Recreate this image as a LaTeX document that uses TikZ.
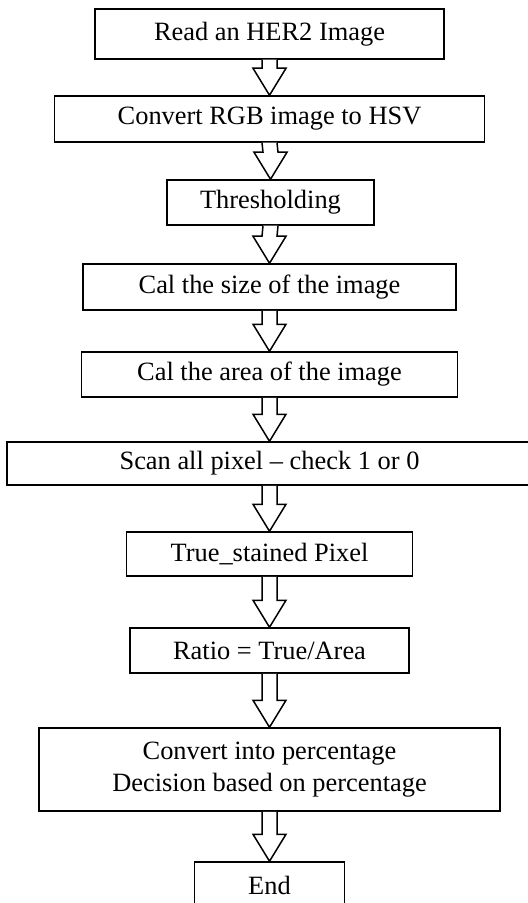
\documentclass[tikz,border=0pt]{standalone}
\usepackage{fontspec}
\setmainfont{Liberation Serif}
\usepackage{tikz}
\usetikzlibrary{calc}

\tikzset{box/.style={draw,line width=0.75pt,inner sep=0pt,align=center,font=\fontsize{13.2pt}{15.8pt}\selectfont},
hollow/.style={draw,line width=0.75pt,fill=white,line join=miter}}
\newcommand{\hollowarrow}[2]{%
\draw[hollow]($(#1.south)+(-7.5,0)$)--($(#2.north)+(-7.5,-27)$)--($(#2.north)+(-16.5,-27)$)--(#2.north)
--($(#2.north)+(16.5,-27)$)--($(#2.north)+(7.5,-27)$)--($(#1.south)+(7.5,0)$);}

\begin{document}
\begin{tikzpicture}[x=0.5pt,y=-0.5pt]
\useasboundingbox (0,0) rectangle (528,903);
\node[box,minimum width=174.5pt,minimum height=25pt] (read) at (269.5,34) {Read an HER2 Image};
\node[box,minimum width=215pt,minimum height=23pt] (hsv) at (269.5,119) {Convert RGB image to HSV};
\node[box,minimum width=103.5pt,minimum height=22.5pt] (thresh) at (270.5,202.5) {Thresholding};
\node[box,minimum width=186.5pt,minimum height=23pt] (size) at (269.5,287) {Cal the size of the image};
\node[box,minimum width=188pt,minimum height=22.5pt] (area) at (269.5,374.5) {Cal the area of the image};
\node[box,minimum width=262.5pt,minimum height=21.5pt] (scan) at (269.5,463.5) {Scan all pixel – check 1 or 0};
\node[box,minimum width=143pt,minimum height=22pt] (stained) at (269.5,554) {True\_stained Pixel};
\node[box,minimum width=139.5pt,minimum height=22.5pt] (ratio) at (269.5,650.5) {Ratio = True/Area};
\node[box,minimum width=230.5pt,minimum height=41.5pt] (percent) at (269.5,769.5) {Convert into percentage\\Decision based on percentage};
\node[box,minimum width=75pt,minimum height=23pt] (end) at (269.5,885) {End};
% arrows between steps
\hollowarrow{read}{hsv}
\hollowarrow{hsv}{thresh}
\hollowarrow{thresh}{size}
\hollowarrow{size}{area}
\hollowarrow{area}{scan}
\hollowarrow{scan}{stained}
\hollowarrow{stained}{ratio}
\hollowarrow{ratio}{percent}
\hollowarrow{percent}{end}
\end{tikzpicture}
\end{document}
